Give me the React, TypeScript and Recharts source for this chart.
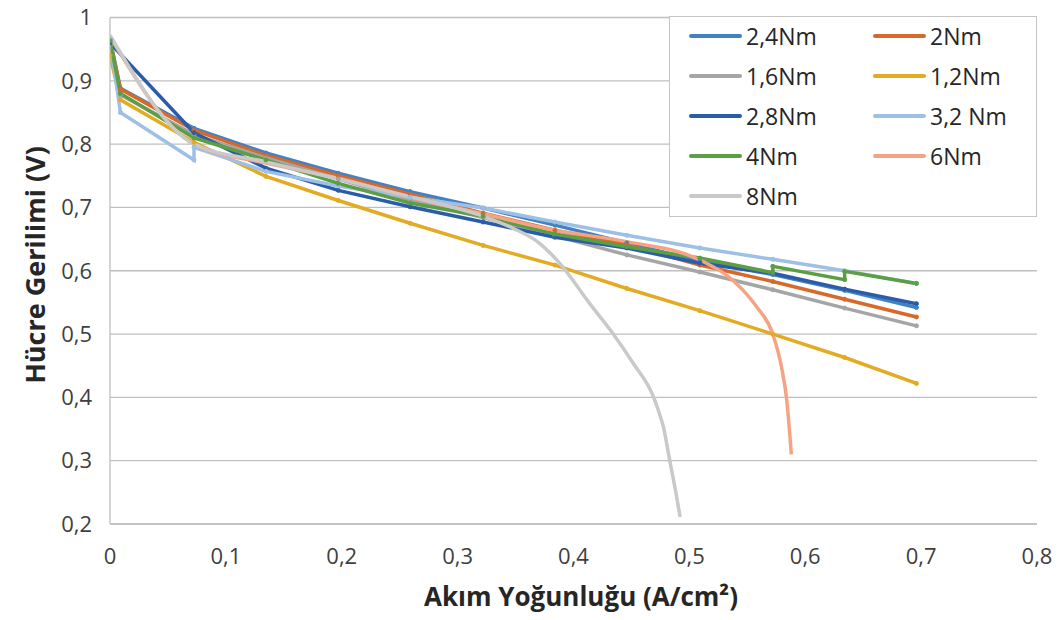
import { LineChart, Line, XAxis, YAxis, CartesianGrid, Label } from "recharts";

// current density grid used by most series (A/cm2)
const jBase = [0, 0.009, 0.0725, 0.1346, 0.197, 0.259, 0.322, 0.384, 0.446, 0.509, 0.572, 0.634, 0.696];

// cell voltages (null = no point there)
const v24 = [0.965, 0.888, 0.825, 0.786, 0.754, 0.725, 0.699, 0.672, 0.644, 0.615, 0.594, 0.569, 0.542];
const v20 = [0.965, 0.887, 0.822, 0.782, 0.75, 0.721, 0.691, 0.664, 0.641, 0.609, 0.583, 0.555, 0.527];
const v16 = [0.96, 0.878, 0.815, 0.778, 0.745, 0.712, 0.684, 0.655, 0.625, 0.598, 0.57, 0.541, 0.513];
const v12 = [0.94, 0.87, 0.803, 0.749, 0.711, 0.675, 0.64, 0.609, 0.572, 0.537, 0.5, 0.463, 0.422];
const v28 = [0.96, null, 0.818, 0.762, 0.727, 0.701, 0.677, 0.653, 0.636, 0.612, 0.596, 0.571, 0.548];

// series with repeated x points / extra curve points
const j32 = [0, 0.009, 0.0725, 0.0725, 0.1346, 0.197, 0.259, 0.322, 0.384, 0.446, 0.509, 0.572, 0.634, 0.696];
const v32 = [0.965, 0.85, 0.775, 0.795, 0.757, 0.734, 0.716, 0.699, 0.677, 0.656, 0.636, 0.618, 0.6, 0.58];

const j40 = [0, 0.009, 0.0725, 0.1346, 0.197, 0.259, 0.322, 0.384, 0.446, 0.509, 0.572, 0.572, 0.634, 0.634, 0.696];
const v40 = [0.963, 0.88, 0.81, 0.775, 0.738, 0.707, 0.686, 0.658, 0.638, 0.62, 0.597, 0.607, 0.586, 0.599, 0.58];

const j60 = [0, 0.0725, 0.1346, 0.197, 0.259, 0.322, 0.384, 0.446, 0.509, 0.5375, 0.558, 0.572, 0.5795, 0.584, 0.588];
const v60 = [0.97, 0.8, 0.77, 0.746, 0.716, 0.69, 0.664, 0.646, 0.617, 0.585, 0.543, 0.5, 0.448, 0.396, 0.31];

const j80 = [0, 0.0725, 0.1346, 0.197, 0.259, 0.322, 0.348, 0.371, 0.388, 0.414, 0.434, 0.4515, 0.469, 0.4735, 0.4775, 0.483, 0.4885, 0.492];
const v80 = [0.972, 0.8, 0.772, 0.745, 0.717, 0.686, 0.667, 0.643, 0.612, 0.548, 0.501, 0.454, 0.401, 0.378, 0.354, 0.301, 0.248, 0.211];

const xTicks = [0, 0.1, 0.2, 0.3, 0.4, 0.5, 0.6, 0.7, 0.8];
const yTicks = [0.2, 0.3, 0.4, 0.5, 0.6, 0.7, 0.8, 0.9, 1];

const toPoints = (xs: number[], ys: (number | null)[]) =>
  xs.map((x, i) => ({ x, y: ys[i] })).filter((p) => p.y !== null);

const series = [
  { name: "2,4Nm", color: "#4382c2", data: toPoints(jBase, v24), smooth: false },
  { name: "2Nm", color: "#d9692b", data: toPoints(jBase, v20), smooth: false },
  { name: "1,6Nm", color: "#a5a5a5", data: toPoints(jBase, v16), smooth: false },
  { name: "1,2Nm", color: "#e3aa23", data: toPoints(jBase, v12), smooth: false },
  { name: "2,8Nm", color: "#2b5ca9", data: toPoints(jBase, v28), smooth: false },
  { name: "3,2 Nm", color: "#9cc0e6", data: toPoints(j32, v32), smooth: false },
  { name: "4Nm", color: "#5b9f45", data: toPoints(j40, v40), smooth: false },
  { name: "6Nm", color: "#f4a485", data: toPoints(j60, v60), smooth: true },
  { name: "8Nm", color: "#c9c9c9", data: toPoints(j80, v80), smooth: true },
];

const fmt = (v: number) => String(Math.round(v * 10) / 10).replace(".", ",");

const tickStyle = { fontSize: 22, fill: "#404040", fontFamily: "Open Sans" };

const App = () => {
  return (
    <div style={{ position: "relative", width: 1061, height: 620, margin: -8 }}>
      <LineChart width={1061} height={620} margin={{ top: 17.5, right: 24, left: 0, bottom: 0 }}>
        <CartesianGrid vertical={false} stroke="#bfbfbf" strokeWidth={1.3} />
        <XAxis
          type="number"
          dataKey="x"
          domain={[0, 0.8]}
          ticks={xTicks}
          tickFormatter={fmt}
          height={96}
          tickSize={0}
          tickMargin={24}
          axisLine={{ stroke: "#bfbfbf", strokeWidth: 1.3 }}
          tick={tickStyle}
          allowDataOverflow
        >
          <Label
            content={() => (
              <text
                x={581}
                y={606}
                textAnchor="middle"
                fontFamily="Open Sans"
                fontWeight="bold"
                fontSize={26}
                fill="#262626"
              >
                Akım Yoğunluğu (A/cm²)
              </text>
            )}
          />
        </XAxis>
        <YAxis
          type="number"
          dataKey="y"
          domain={[0.2, 1]}
          ticks={yTicks}
          tickFormatter={fmt}
          width={110}
          tickSize={0}
          tickMargin={18}
          axisLine={{ stroke: "#bfbfbf", strokeWidth: 1.3 }}
          tick={tickStyle}
          allowDataOverflow
        >
          <Label
            content={() => (
              <text
                x={34}
                y={265}
                transform="rotate(-90 34 265)"
                textAnchor="middle"
                dominantBaseline="central"
                fontFamily="Open Sans"
                fontWeight="bold"
                fontSize={27}
                fill="#262626"
              >
                Hücre Gerilimi (V)
              </text>
            )}
          />
        </YAxis>
        {series.map((s) => (
          <Line
            key={s.name}
            data={s.data}
            dataKey="y"
            name={s.name}
            type={s.smooth ? "monotone" : "linear"}
            stroke={s.color}
            strokeWidth={3.5}
            dot={s.smooth ? false : { r: 2, fill: s.color, stroke: s.color, strokeWidth: 1 }}
            isAnimationActive={false}
          />
        ))}
      </LineChart>
      {/* legend box, two columns */}
      <div
        style={{
          position: "absolute",
          left: 669,
          top: 16,
          width: 368,
          height: 201,
          boxSizing: "border-box",
          border: "1.5px solid #c4c4c4",
          background: "#fff",
        }}
      >
        {series.map((s, i) => {
          const col = i % 2;
          const row = Math.floor(i / 2);
          const cy = 19 + row * 40;
          const left = col === 0 ? 19 : 203;
          return (
            <div key={s.name}>
              <div
                style={{
                  position: "absolute",
                  left,
                  top: cy - 2,
                  width: 53,
                  height: 4,
                  borderRadius: 2,
                  background: s.color,
                }}
              />
              <div
                style={{
                  position: "absolute",
                  left: left + 57,
                  top: cy - 16,
                  height: 32,
                  lineHeight: "32px",
                  fontFamily: "Open Sans",
                  fontSize: 23,
                  color: "#262626",
                  whiteSpace: "nowrap",
                }}
              >
                {s.name}
              </div>
            </div>
          );
        })}
      </div>
    </div>
  );
};

export default App;
